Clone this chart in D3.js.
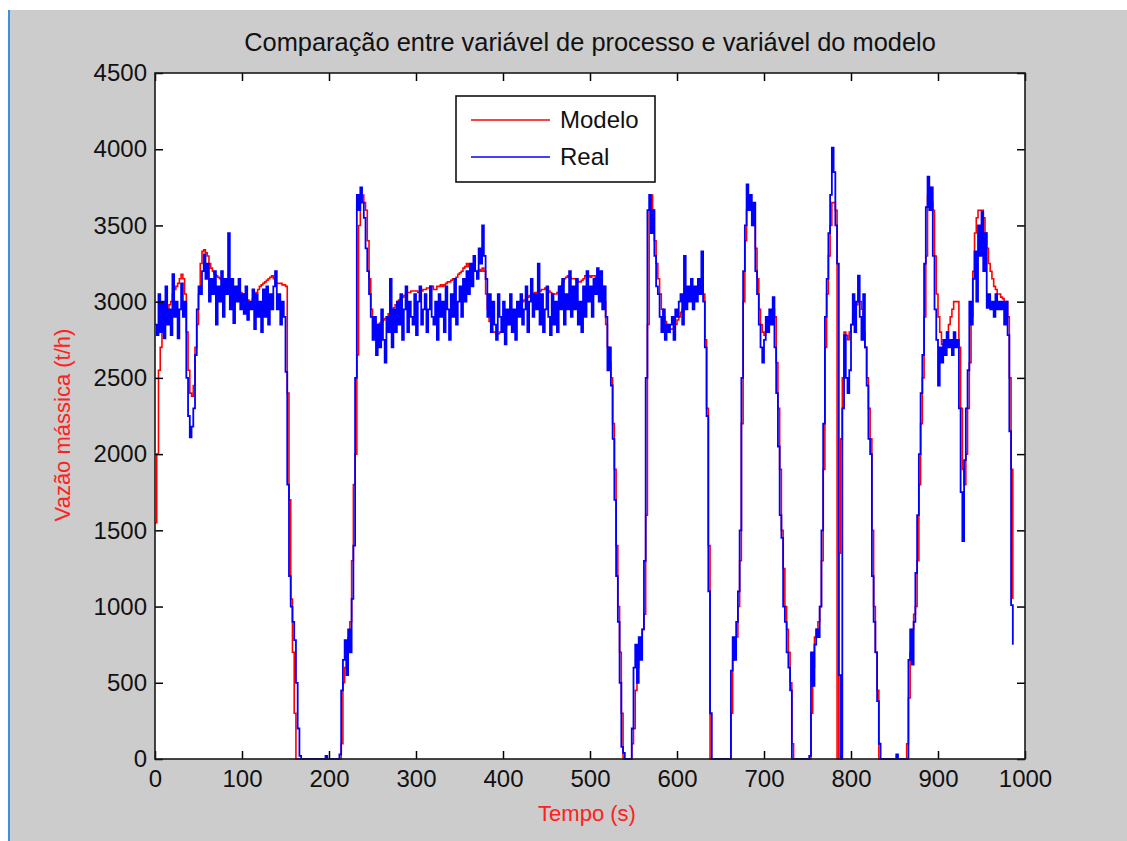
<!DOCTYPE html>
<html>
<head>
<meta charset="utf-8">
<script src="https://cdn.jsdelivr.net/npm/d3@7"></script>
<style>
  html, body { margin: 0; padding: 0; background: #ffffff; }
  svg { display: block; }
  text { font-family: "Liberation Sans", Arial, Helvetica, sans-serif; }
</style>
</head>
<body>
<svg id="chart" width="1127" height="841"></svg>
<script>
// ---- data (sampled every 2 s, starting at t = 0 s) ----
const sampleStep = 2;

const titleText = "Comparação entre variável de processo e variável do modelo";
const xLabelText = "Tempo (s)";
const yLabelText = "Vazão mássica (t/h)";
const seriesNames = ["Modelo", "Real"];

const xTicks = [0, 100, 200, 300, 400, 500, 600, 700, 800, 900, 1000];
const yTicks = [0, 500, 1000, 1500, 2000, 2500, 3000, 3500, 4000, 4500];

const realValues = [
  2850, 2780, 3050, 2800, 3000,
  2760, 3100, 2850, 2950, 2780,
  3180, 2900, 3000, 2760, 2950,
  3120, 2900, 3000, 2500, 2250,
  2110, 2180, 2300, 2650, 2950,
  3100, 3050, 3200, 3310, 3150,
  3250, 3000, 3150, 3050, 3200,
  2850, 3100, 3000, 3200, 2900,
  3150, 3050, 3450, 2950, 3150,
  2860, 3100, 3000, 3150, 2950,
  3050, 2920, 3100, 2880, 3000,
  2950, 3080, 2820, 3050, 2900,
  3000, 2800, 3080, 2900, 3100,
  2850, 3050, 2950, 3100, 3200,
  2950, 3050, 2850, 3000, 2900,
  2540, 1800, 1200, 1000, 900,
  780, 500, 200, 20, 0,
  0, 0, 0, 0, 0,
  0, 0, 0, 0, 0,
  0, 0, 0, 20, 0,
  0, 0, 0, 0, 0,
  0, 30, 450, 650, 780,
  550, 850, 700, 1050, 1400,
  2500, 3700, 3600, 3750, 3650,
  3550, 3350, 3200, 3050, 2900,
  2750, 2900, 2650, 2850, 2700,
  2950, 2750, 2600, 2900, 2800,
  3150, 2700, 2950, 2800, 3000,
  2850, 3050, 2750, 2950, 3100,
  2800, 3000, 2900, 2850, 3050,
  2780, 3000, 3100, 2850, 2950,
  3050, 2800, 2950, 3100, 2900,
  2850, 3000, 2750, 3050, 2900,
  3000, 2800, 3100, 2950, 2750,
  3050, 2900, 3150, 2850, 3000,
  3100, 2900, 3150, 3000, 3200,
  3050, 3250, 3100, 3300, 3200,
  3150, 3350, 3250, 3500, 3300,
  3150, 2900, 3050, 2800, 3000,
  2850, 2750, 3050, 2900, 2800,
  3000, 2720, 2950, 2850, 3050,
  2800, 2950, 2750, 3000, 2900,
  3050, 2850, 2950, 3100, 2800,
  3000, 3150, 2900, 3050, 2950,
  3250, 2850, 3050, 2800, 2950,
  3100, 2900, 2780, 3050, 2850,
  3000, 2800, 3100, 2950, 3150,
  2850, 3050, 2950, 3200, 2900,
  3100, 2950, 3150, 2850, 3000,
  2800, 3100, 2900, 3200, 3000,
  3100, 2900, 3150, 3050, 3220,
  3000, 3200, 2950, 3100, 2900,
  2550, 2700, 2450, 2100, 1700,
  1200, 900, 500, 80, 40,
  0, 0, 0, 0, 200,
  600, 750, 500, 800, 650,
  850, 1300, 2500, 3600, 3700,
  3450, 3600, 3300, 3100, 3050,
  2900, 2800, 2950, 2750, 2850,
  2800, 2850, 2900, 2750, 2950,
  2900, 3000, 3050, 2850, 3300,
  2950, 3100, 3000, 3150, 2950,
  3100, 3000, 3150, 3050, 3330,
  3000, 2700, 2250, 1100, 300,
  0, 0, 0, 0, 0,
  0, 0, 0, 0, 0,
  0, 580, 800, 650, 900,
  1100, 1500, 2500, 3200, 3500,
  3770, 3600, 3700, 3500, 3650,
  3200, 3050, 2850, 2700, 2600,
  2750, 2900, 2800, 2950, 2850,
  3030, 2700, 2400, 2050, 1600,
  1450, 1000, 900, 700, 600,
  450, 0, 0, 0, 0,
  0, 0, 0, 0, 0,
  0, 20, 700, 480, 750,
  850, 800, 1000, 1500, 2200,
  2900, 3150, 3450, 3700, 4010,
  3850, 3500, 3250, 550, 0,
  2300, 2780, 2500, 2400, 2550,
  2850, 3050, 2800, 3000, 3170,
  2900, 2750, 3050, 2700, 2450,
  2100, 2000, 1200, 900, 700,
  380, 100, 0, 0, 0,
  0, 0, 0, 0, 0,
  0, 30, 0, 0, 0,
  0, 0, 0, 650, 850,
  620, 900, 1220, 1600, 2000,
  2400, 2650, 3250, 3620, 3820,
  3600, 3750, 3300, 2950, 2750,
  2450, 2700, 2600, 2750, 2650,
  2800, 2700, 2750, 2650, 2800,
  2700, 2750, 2300, 1750, 1430,
  1960, 2300, 2550, 3000, 2850,
  3150, 3330, 3000, 3500, 3300,
  3590, 3200, 3450, 2960, 3050,
  2950, 3000, 2900, 3050, 2950,
  3000, 2950, 3000, 2850, 3000,
  2780, 2150, 1010, 750
];

const modelValues = [
  1550, 2000, 2550, 2700, 2800,
  2850, 2900, 2950, 2980, 3000,
  3050, 3080, 3100, 3120, 3150,
  3180, 3150, 3050, 2800, 2550,
  2400, 2380, 2450, 2700, 2850,
  3050, 3250, 3330, 3340, 3320,
  3300, 3250, 3220, 3200, 3180,
  3170, 3160, 3150, 3140, 3130,
  3120, 3110, 3100, 3090, 3070,
  3060, 3050, 3040, 3050, 3060,
  3050, 3030, 3020, 3010, 3000,
  3000, 3020, 3040, 3060, 3080,
  3100, 3110, 3120, 3130, 3140,
  3150, 3160, 3170, 3150, 3120,
  3120, 3120, 3120, 3110, 3110,
  3100, 2400, 1700, 1050, 700,
  300, 0, 0, 0, 0,
  0, 0, 0, 0, 0,
  0, 0, 0, 0, 0,
  0, 0, 0, 0, 0,
  0, 0, 0, 0, 0,
  0, 0, 100, 500, 600,
  700, 800, 900, 1300, 1800,
  2000, 2650, 3500, 3700, 3700,
  3650, 3600, 3400, 3150, 2950,
  2900, 2870, 2850, 2850, 2860,
  2870, 2880, 2890, 2900, 2920,
  2930, 2950, 2960, 2980, 3000,
  3010, 3020, 3030, 3040, 3050,
  3060, 3060, 3070, 3070, 3070,
  3070, 3060, 3060, 3070, 3080,
  3080, 3090, 3090, 3100, 3100,
  3080, 3080, 3100, 3100, 3110,
  3100, 3110, 3120, 3130, 3130,
  3140, 3150, 3150, 3160, 3180,
  3190, 3200, 3220, 3230, 3250,
  3230, 3220, 3210, 3210, 3200,
  3200, 3210, 3200, 3220, 3200,
  3050, 2950, 2870, 2820, 2800,
  2800, 2790, 2790, 2800, 2800,
  2810, 2830, 2850, 2870, 2890,
  2900, 2920, 2940, 2950, 2960,
  2980, 3000, 3010, 3020, 3030,
  3040, 3050, 3050, 3060, 3060,
  3070, 3070, 3080, 3080, 3090,
  3080, 3070, 3060, 3050, 3050,
  3050, 3060, 3080, 3100, 3130,
  3150, 3160, 3170, 3160, 3150,
  3150, 3150, 3140, 3130, 3130,
  3140, 3150, 3170, 3170, 3170,
  3160, 3170, 3170, 3160, 3170,
  3150, 3130, 3100, 3000, 2850,
  2700, 2600, 2500, 2200, 1900,
  1400, 1000, 700, 300, 0,
  0, 0, 0, 0, 100,
  200, 450, 600, 700, 750,
  850, 950, 1600, 2850, 3600,
  3700, 3600, 3400, 3250, 3150,
  3050, 2950, 2900, 2870, 2850,
  2830, 2820, 2820, 2830, 2850,
  2880, 2900, 2930, 2950, 2980,
  3000, 3030, 3050, 3060, 3070,
  3080, 3090, 3100, 3100, 3100,
  3050, 2750, 2300, 1400, 0,
  0, 0, 0, 0, 0,
  0, 0, 0, 0, 0,
  0, 300, 650, 700, 800,
  1000, 1300, 2200, 3000, 3400,
  3600, 3700, 3650, 3600, 3500,
  3350, 3150, 2950, 2850, 2800,
  2780, 2820, 2850, 2880, 2900,
  2950, 2900, 2600, 2300, 1900,
  1500, 1250, 1000, 850, 700,
  500, 100, 0, 0, 0,
  0, 0, 0, 0, 0,
  0, 0, 300, 600, 800,
  850, 900, 1000, 1300, 1900,
  2700, 3050, 3300, 3500, 3650,
  3650, 3600, 0, 1350, 2100,
  2500, 2800, 2780, 2750, 2800,
  2850, 2900, 2950, 2980, 3000,
  3000, 2950, 2800, 2700, 2500,
  2300, 2100, 1500, 1000, 700,
  450, 0, 0, 0, 0,
  0, 0, 0, 0, 0,
  0, 0, 0, 0, 0,
  0, 0, 100, 400, 700,
  850, 950, 1000, 1300, 1800,
  2200, 2500, 2900, 3300, 3700,
  3750, 3650, 3600, 3300, 3050,
  2900, 2800, 2720, 2700, 2750,
  2800, 2850, 2900, 2950, 3000,
  3000, 3000, 2700, 2300, 1900,
  1800, 2000, 2300, 2600, 2900,
  3200, 3450, 3550, 3600, 3600,
  3600, 3550, 3450, 3350, 3250,
  3200, 3150, 3100, 3080, 3050,
  3050, 3030, 3020, 3000, 3000,
  2900, 2500, 1900, 1050
];

// ---- layout ----
const W = 1127, H = 841;
const plot = { left: 155, right: 1025, top: 73, bottom: 759 };
const svg = d3.select("#chart");

// window frame
svg.append("rect").attr("x", 0).attr("y", 0).attr("width", W).attr("height", H).attr("fill", "#ffffff");
svg.append("rect").attr("x", 10).attr("y", 10).attr("width", W - 10).attr("height", H - 10).attr("fill", "#cccccc");
svg.append("line").attr("x1", 9).attr("x2", 9).attr("y1", 10).attr("y2", H)
  .attr("stroke", "#3d8fe0").attr("stroke-width", 2);

const x = d3.scaleLinear().domain([0, 1000]).range([plot.left, plot.right]);
const y = d3.scaleLinear().domain([0, 4500]).range([plot.bottom, plot.top]);

svg.append("rect")
  .attr("x", plot.left).attr("y", plot.top)
  .attr("width", plot.right - plot.left).attr("height", plot.bottom - plot.top)
  .attr("fill", "#ffffff");

svg.append("clipPath").attr("id", "clip")
  .append("rect")
  .attr("x", plot.left).attr("y", plot.top - 1)
  .attr("width", plot.right - plot.left).attr("height", plot.bottom - plot.top + 2);

const toPoints = vals => vals.map((v, i) => [i * sampleStep, v]);

const line = d3.line()
  .x(d => x(d[0]))
  .y(d => y(d[1]))
  .curve(d3.curveStepAfter);

const g = svg.append("g").attr("clip-path", "url(#clip)");
g.append("path").datum(toPoints(modelValues))
  .attr("fill", "none").attr("stroke", "#ff0000").attr("stroke-width", 1.6)
  .attr("d", line);
g.append("path").datum(toPoints(realValues))
  .attr("fill", "none").attr("stroke", "#0000ff").attr("stroke-width", 1.8)
  .attr("d", line);

// ---- axes ----
const tickLen = 8;
const fontTick = 24;

const axB = svg.append("g").attr("transform", `translate(0,${plot.bottom})`)
  .call(d3.axisBottom(x).tickValues(xTicks).tickSizeInner(-tickLen).tickSizeOuter(0).tickPadding(11).tickFormat(d3.format("d")));
const axL = svg.append("g").attr("transform", `translate(${plot.left},0)`)
  .call(d3.axisLeft(y).tickValues(yTicks).tickSizeInner(-tickLen).tickSizeOuter(0).tickPadding(8).tickFormat(d3.format("d")));
const axT = svg.append("g").attr("transform", `translate(0,${plot.top})`)
  .call(d3.axisTop(x).tickValues(xTicks).tickSizeInner(-tickLen).tickSizeOuter(0).tickFormat(""));
const axR = svg.append("g").attr("transform", `translate(${plot.right},0)`)
  .call(d3.axisRight(y).tickValues(yTicks).tickSizeInner(-tickLen).tickSizeOuter(0).tickFormat(""));

[axB, axL, axT, axR].forEach(a => {
  a.select(".domain").remove();
  a.selectAll(".tick line").attr("stroke", "#000").attr("stroke-width", 1.5);
  a.selectAll(".tick text")
    .attr("font-family", "'Liberation Sans', Arial, sans-serif")
    .attr("font-size", fontTick).attr("fill", "#111");
});

svg.append("rect")
  .attr("x", plot.left).attr("y", plot.top)
  .attr("width", plot.right - plot.left).attr("height", plot.bottom - plot.top)
  .attr("fill", "none").attr("stroke", "#1a1a1a").attr("stroke-width", 1.6);

// ---- titles ----
svg.append("text")
  .attr("x", (plot.left + plot.right) / 2).attr("y", 51)
  .attr("text-anchor", "middle").attr("font-size", 25.4).attr("fill", "#111")
  .text(titleText);

svg.append("text")
  .attr("x", (plot.left + plot.right) / 2 - 3).attr("y", 821)
  .attr("text-anchor", "middle").attr("font-size", 22).attr("fill", "#ff2020")
  .text(xLabelText);

svg.append("text")
  .attr("transform", `translate(70,${(plot.top + plot.bottom) / 2 + 9}) rotate(-90)`)
  .attr("text-anchor", "middle").attr("font-size", 22).attr("fill", "#ff2020")
  .text(yLabelText);

// ---- legend ----
const leg = svg.append("g");
leg.append("rect").attr("x", 456).attr("y", 96).attr("width", 199).attr("height", 86)
  .attr("fill", "#ffffff").attr("stroke", "#111").attr("stroke-width", 1.6);
const legColors = ["#ff0000", "#0000ff"];
const legY = [120, 157];
seriesNames.forEach((name, i) => {
  leg.append("line").attr("x1", 471).attr("x2", 550).attr("y1", legY[i]).attr("y2", legY[i])
    .attr("stroke", legColors[i]).attr("stroke-width", 1.6);
  leg.append("text").attr("x", 560).attr("y", legY[i]).attr("dy", "0.35em")
    .attr("font-size", 24).attr("fill", "#111").text(name);
});
</script>
</body>
</html>
